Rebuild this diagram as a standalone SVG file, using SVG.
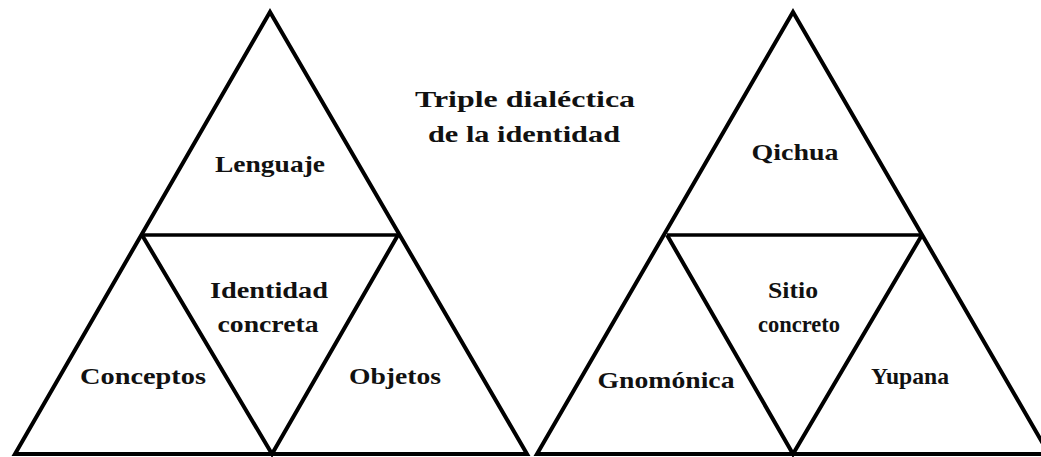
<svg xmlns="http://www.w3.org/2000/svg" width="1041" height="457" viewBox="0 0 1041 457">
<style>
.ln{stroke:#000;stroke-width:4;fill:none;stroke-linejoin:miter}
.mid{stroke:#000;stroke-width:3.5}
text{font-family:"Liberation Serif","DejaVu Serif",serif;font-weight:bold;font-size:23px;fill:#111;text-anchor:middle}
</style>
<rect width="1041" height="457" fill="#fff"/>
<g id="connectors">
<polygon class="ln" points="270,12 527,454 15,454"/>
<line class="mid" x1="142" y1="235" x2="398" y2="235"/>
<polyline class="ln" points="142,235 272,454 398,235"/>
<polygon class="ln" points="793,12 1049,454 537,454"/>
<line class="mid" x1="667" y1="235" x2="922" y2="235"/>
<polyline class="ln" points="667,235 793,454 922,235"/>
</g>
<g id="title">
<text x="525" y="107" textLength="220" lengthAdjust="spacingAndGlyphs">Triple dialéctica</text>
<text x="524" y="142" textLength="192" lengthAdjust="spacingAndGlyphs">de la identidad</text>
</g>
<g id="lenguaje"><text x="270" y="172" textLength="110" lengthAdjust="spacingAndGlyphs">Lenguaje</text></g>
<g id="identidad"><text x="269" y="298" textLength="118" lengthAdjust="spacingAndGlyphs">Identidad</text><text x="268" y="332" textLength="101" lengthAdjust="spacingAndGlyphs">concreta</text></g>
<g id="conceptos"><text x="143" y="384" textLength="126" lengthAdjust="spacingAndGlyphs">Conceptos</text></g>
<g id="objetos"><text x="395" y="384" textLength="92" lengthAdjust="spacingAndGlyphs">Objetos</text></g>
<g id="qichua"><text x="795" y="160" textLength="87" lengthAdjust="spacingAndGlyphs">Qichua</text></g>
<g id="sitio"><text x="793" y="298" textLength="50" lengthAdjust="spacingAndGlyphs">Sitio</text><text x="799" y="332" textLength="82" lengthAdjust="spacingAndGlyphs">concreto</text></g>
<g id="gnomonica"><text x="666" y="388" textLength="137" lengthAdjust="spacingAndGlyphs">Gnomónica</text></g>
<g id="yupana"><text x="910" y="384" textLength="78" lengthAdjust="spacingAndGlyphs">Yupana</text></g>
</svg>
